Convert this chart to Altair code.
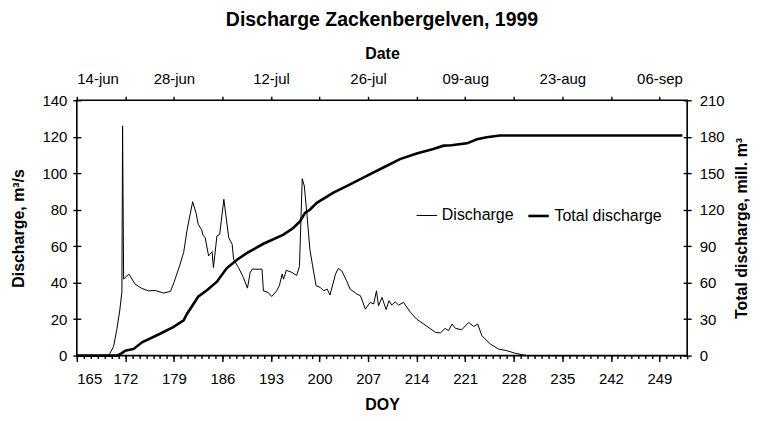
import altair as alt
import pandas as pd

FONT = "Liberation Sans"

# Discharge (m3/s), by day of year
doy_q = [165, 169.6, 170.3, 170.8, 171.2, 171.5, 171.6, 171.75, 172.5, 173.4, 174.3, 175.3,
         176.3, 177.5, 178.5, 179.0, 179.8, 180.4, 180.9, 181.7, 182.2, 182.5, 183.0, 183.2,
         183.5, 184.0, 184.5, 184.7, 185.2, 185.6, 186.2, 186.9, 187.4, 187.6, 188.3, 189.0,
         189.6, 190.0, 190.3, 191.7, 191.9, 192.6, 193.1, 193.8, 194.2, 194.6, 194.8, 195.2,
         196.0, 196.7, 197.1, 197.5, 197.8, 198.2, 198.6, 199.0, 199.5, 200.1, 200.6, 201.1,
         201.5, 202.3, 202.7, 203.2, 203.9, 204.4, 205.4, 205.9, 206.6, 207.3, 207.8, 208.2,
         208.5, 209.0, 209.6, 210.0, 210.4, 210.9, 211.4, 212.1, 213.1, 214.0, 215.2, 216.7,
         217.4, 218.1, 218.6, 219.1, 219.6, 220.5, 221.5, 222.2, 222.8, 223.4, 224.6, 225.8,
         227.0, 228.2, 229.2, 230.0, 252.3]
discharge = [0, 0, 5, 15, 25, 35, 126, 42, 44.7, 39.2, 37, 35.5,
             35.7, 34.3, 35.2, 40, 49, 56.5, 69, 84.4, 78, 72, 69, 66,
             64.7, 54.7, 57, 48.3, 65.6, 66.5, 85.7, 64.7, 61, 52.9, 48.3, 43,
             37, 45.6, 47.4, 47.4, 35.5, 34.6, 32.4, 35.5, 38.3, 44.7, 41.9, 46.8,
             45.6, 44, 49, 97, 93, 76.6, 58.3, 49.2, 38.3, 37.4, 35.5, 36.5,
             33.2, 44.7, 47.8, 46.5, 41, 36.5, 33.7, 32.8, 25.5, 29.2, 28.3, 35.5,
             27.3, 31.9, 25.2, 30.1, 27.7, 29.5, 27.7, 29.2, 23.7, 20, 16.8, 12.8,
             12.4, 14.9, 13.7, 17.3, 14.9, 14.2, 18.2, 16, 17.3, 10.9, 6.4, 3.6,
             2.7, 1.3, 0.5, 0, 0]

# Total (cumulative) discharge, mill. m3
doy_t = [165, 170.8, 171.5, 172, 173.2, 174.4, 177, 178.9, 180.4, 180.9, 181.7, 182.5,
         183.8, 185.2, 186.6, 188.1, 189.5, 191.9, 194.8, 196.2, 197.2, 197.9, 198.6, 199.6,
         202, 204.4, 206.8, 209.2, 211.6, 214, 216.4, 217.9, 219, 221.25, 222.7, 224.1,
         226, 252.3]
total = [0, 0, 2, 4, 5.5, 11, 18, 23.5, 29, 34.5, 41.4, 48.4,
         53.9, 60.8, 71.8, 78.8, 84.3, 92, 99.5, 105, 110.5, 117.4, 120, 125.7,
         134, 140.9, 147.8, 154.7, 161.6, 166.3, 169.9, 172.7, 173, 174.6, 178, 179.6,
         181, 181]

series_names = ["Discharge", "Total discharge"]
doy_ticks = list(range(165, 250, 7))
minor_ticks = list(range(165, 254))
date_vals = [165, 179, 193, 207, 221, 235, 249]
date_labels = ["14-jun", "28-jun", "12-jul", "26-jul", "09-aug", "23-aug", "06-sep"]
left_ticks = list(range(0, 141, 20))
right_ticks = list(range(0, 211, 30))

df_q = pd.DataFrame({"DOY": doy_q, "value": discharge, "series": series_names[0]})
df_t = pd.DataFrame({"DOY": doy_t, "value": total, "series": series_names[1]})

label_expr = "".join(f"datum.value == {v} ? '{l}' : " for v, l in zip(date_vals, date_labels)) + "''"

xscale = alt.Scale(domain=[165, 253], nice=False, zero=False)

sw = alt.StrokeWidth(
    "series:N",
    scale=alt.Scale(domain=series_names, range=[1, 2.6]),
    legend=alt.Legend(
        title=None, orient="none", direction="horizontal", legendX=340, legendY=104,
        symbolType="stroke", symbolSize=420, symbolStrokeColor="black",
        labelFont=FONT, labelFontSize=16, labelColor="black", labelOffset=4,
        columnPadding=8, padding=0,
    ),
)

q_line = alt.Chart(df_q).mark_line(color="black").encode(
    x=alt.X("DOY:Q", scale=xscale,
            axis=alt.Axis(orient="bottom", values=doy_ticks, tickSize=6, title="DOY",
                          labelPadding=10, titlePadding=10, domain=False)),
    y=alt.Y("value:Q", scale=alt.Scale(domain=[0, 140], nice=False),
            axis=alt.Axis(orient="left", values=left_ticks, title="Discharge, m³/s",
                          offset=-4, tickSize=8, domain=False, labelPadding=6,
                          titlePadding=15)),
    strokeWidth=sw,
)

t_line = alt.Chart(df_t).mark_line(color="black").encode(
    x=alt.X("DOY:Q", scale=xscale,
            axis=alt.Axis(orient="top", values=doy_ticks, tickSize=4, title="Date",
                          labelExpr=label_expr, labelPadding=10, titlePadding=10,
                          domain=False)),
    y=alt.Y("value:Q", scale=alt.Scale(domain=[0, 210], nice=False),
            axis=alt.Axis(orient="right", values=right_ticks,
                          title="Total discharge, mill. m³", titleAngle=270,
                          offset=-4, tickSize=8, domain=False, labelPadding=8,
                          titlePadding=25)),
    strokeWidth=sw,
)

minor = alt.Chart(df_q).mark_line(opacity=0).encode(
    x=alt.X("DOY:Q", scale=xscale,
            axis=alt.Axis(orient="bottom", values=minor_ticks, tickSize=3, labels=False,
                          title=None, domain=False)),
    y=alt.Y("value:Q", axis=None),
)

chart = (
    alt.layer(t_line, q_line, minor)
    .resolve_scale(y="independent")
    .resolve_axis(x="independent", y="independent")
    .properties(
        width=612, height=256,
        background="white",
        autosize=alt.AutoSizeParams(type="none"),
        padding={"left": 69, "top": 92, "right": 66, "bottom": 57},
        title=alt.TitleParams("Discharge Zackenbergelven, 1999", font=FONT, fontSize=19.5,
                              fontWeight="bold", color="black", offset=15),
    )
    .configure_view(stroke="black", strokeWidth=1.6)
    .configure_axis(
        grid=False, labelFont=FONT, labelFontSize=15, labelColor="black",
        titleFont=FONT, titleFontSize=16, titleFontWeight="bold", titleColor="black",
        tickColor="black", tickWidth=1.4,
    )
)

chart.save("out.html", embed_options={"renderer": "svg", "actions": False})
